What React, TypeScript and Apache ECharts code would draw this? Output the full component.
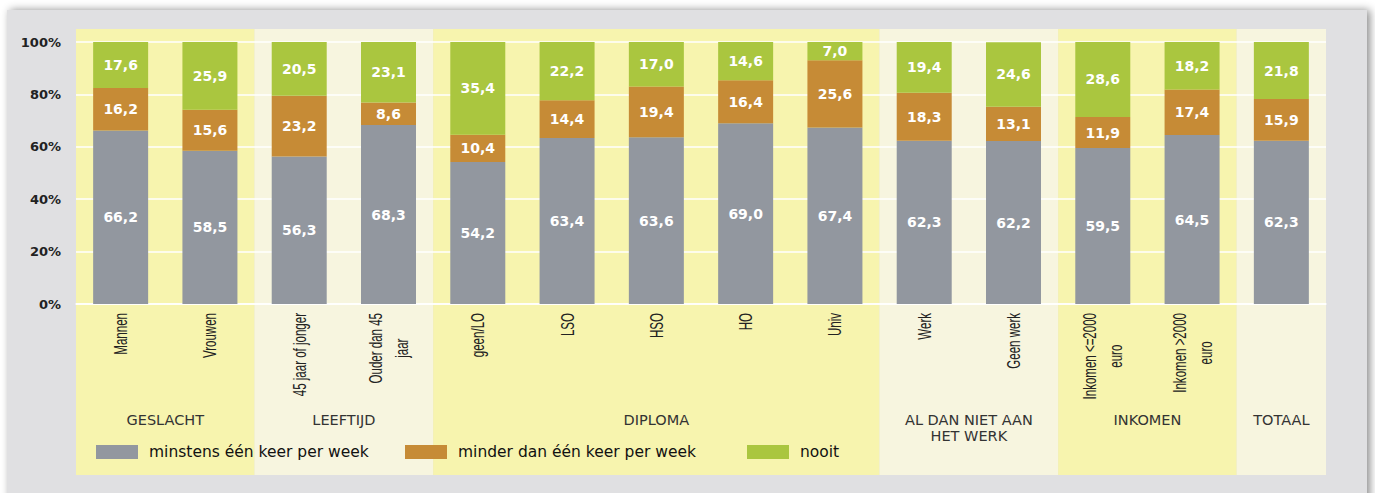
import React, { useEffect, useRef } from 'react';
import * as echarts from 'echarts';

const categories = [
  'Mannen',
  'Vrouwen',
  '45 jaar of jonger',
  'Ouder dan 45\njaar',
  'geen/LO',
  'LSO',
  'HSO',
  'HO',
  'Univ',
  'Werk',
  'Geen werk',
  'Inkomen <=2000\neuro',
  'Inkomen >2000\neuro',
  'Totaal',
];
const unlabelledCategory = 'Totaal';

const minstens = [66.2, 58.5, 56.3, 68.3, 54.2, 63.4, 63.6, 69.0, 67.4, 62.3, 62.2, 59.5, 64.5, 62.3];
const minder = [16.2, 15.6, 23.2, 8.6, 10.4, 14.4, 19.4, 16.4, 25.6, 18.3, 13.1, 11.9, 17.4, 15.9];
const nooit = [17.6, 25.9, 20.5, 23.1, 35.4, 22.2, 17.0, 14.6, 7.0, 19.4, 24.6, 28.6, 18.2, 21.8];

const seriesNames = ['minstens één keer per week', 'minder dan één keer per week', 'nooit'];
const seriesColors = ['#92979F', '#C68B36', '#AAC63F'];

const groupNames = ['GESLACHT', 'LEEFTIJD', 'DIPLOMA', 'AL DAN NIET AAN\nHET WERK', 'INKOMEN', 'TOTAAL'];
const groupFirst = [0, 2, 4, 9, 11, 13];
const groupLast = [1, 3, 8, 10, 12, 13];

const BAND_YELLOW = '#F7F4AE';
const BAND_CREAM = '#F7F5DF';
const PANEL = '#E0E0E2';

const fmt = (v: number) => v.toFixed(1).replace('.', ',');

export default function App() {
  const ref = useRef<HTMLDivElement>(null);

  useEffect(() => {
    if (!ref.current) return;
    const chart = echarts.init(ref.current, null, { renderer: 'svg' });

    const labelStyle = {
      show: true,
      position: 'inside',
      color: '#ffffff',
      fontWeight: 'bold',
      fontSize: 14,
      fontFamily: 'DejaVu Sans',
      formatter: (p: any) => fmt(p.value),
    };

    const datasets = [minstens, minder, nooit];
    const legendLefts = [96, 405, 747];

    chart.setOption({
      animation: false,
      backgroundColor: 'transparent',
      grid: { left: 76, right: 49, top: 42, bottom: 189, containLabel: false },
      legend: seriesNames.map((n, i) => ({
        data: [n],
        left: legendLefts[i],
        top: 444,
        itemWidth: 42,
        itemHeight: 14,
        icon: 'rect',
        selectedMode: false,
        padding: 0,
        textStyle: {
          fontFamily: 'DejaVu Sans',
          fontSize: 15.5,
          color: '#111111',
          padding: [0, 0, 0, 6],
        },
      })),
      xAxis: {
        type: 'category',
        data: categories,
        axisLine: { show: true, lineStyle: { color: '#ffffff', width: 1.5 } },
        axisTick: { show: false },
        axisLabel: { show: false },
      },
      yAxis: {
        type: 'value',
        min: 0,
        max: 100,
        interval: 20,
        axisLine: { show: false },
        axisTick: { show: false },
        axisLabel: {
          formatter: '{value}%',
          fontFamily: 'DejaVu Sans',
          fontWeight: 'bold',
          fontSize: 13,
          color: '#222222',
          margin: 15,
        },
        splitLine: { show: true, lineStyle: { color: '#ffffff', width: 1.5 } },
      },
      series: seriesNames.map((n, i) => ({
        name: n,
        type: 'bar',
        stack: 'total',
        barWidth: 55,
        data: datasets[i],
        itemStyle: { color: seriesColors[i] },
        label: labelStyle,
        z: 3,
      })),
    });

    const px = (i: number) => chart.convertToPixel({ xAxisIndex: 0 }, i) as number;
    const py = (v: number) => chart.convertToPixel({ yAxisIndex: 0 }, v) as number;
    const step = px(1) - px(0);
    const axisY = py(0);
    const graphics: any[] = [
      {
        type: 'rect',
        z: -30,
        shape: { x: 7, y: 10, width: 1360, height: 500 },
        style: { fill: PANEL, shadowBlur: 8, shadowColor: 'rgba(0,0,0,0.45)', shadowOffsetX: 3, shadowOffsetY: 0 },
      },
    ];
    groupNames.forEach((g, gi) => {
      const x0 = px(groupFirst[gi]) - step / 2;
      const x1 = px(groupLast[gi]) + step / 2;
      graphics.push({
        type: 'rect',
        z: -20,
        shape: { x: x0, y: 29, width: x1 - x0, height: 446 },
        style: { fill: gi % 2 === 0 ? BAND_YELLOW : BAND_CREAM },
      });
      graphics.push({
        type: 'text',
        z: 5,
        x: (x0 + x1) / 2,
        y: 412,
        style: {
          text: g,
          align: 'center',
          verticalAlign: 'top',
          fontFamily: 'DejaVu Sans',
          fontSize: 14.5,
          lineHeight: 16,
          fill: '#333333',
        },
      });
    });

    // condensed, rotated category labels under the axis
    const catFont = { fontFamily: 'Liberation Sans', fontSize: 18, fill: '#222222' };
    categories.forEach((c, i) => {
      if (c === unlabelledCategory) return;
      const parts = c.split('\n');
      const text = parts.length === 1 ? c : `{a|${parts[0]}}\n{b|${parts[1]}}`;
      graphics.push({
        type: 'text',
        z: 5,
        x: px(i),
        y: axisY + 9,
        rotation: Math.PI / 2,
        scaleX: 0.64,
        style: {
          text,
          align: 'right',
          verticalAlign: 'middle',
          lineHeight: 26,
          ...catFont,
          rich: {
            a: { fontFamily: 'Liberation Sans', fontSize: 18, lineHeight: 26, fill: '#222222' },
            b: { fontFamily: 'Liberation Sans', fontSize: 18, lineHeight: 26, fill: '#222222', align: 'center' },
          },
        },
      });
    });

    chart.setOption({ graphic: graphics });

    return () => chart.dispose();
  }, []);

  return (
    <div
      ref={ref}
      style={{ position: 'fixed', left: 0, top: 0, width: 1375, height: 493, background: '#ffffff' }}
    />
  );
}
